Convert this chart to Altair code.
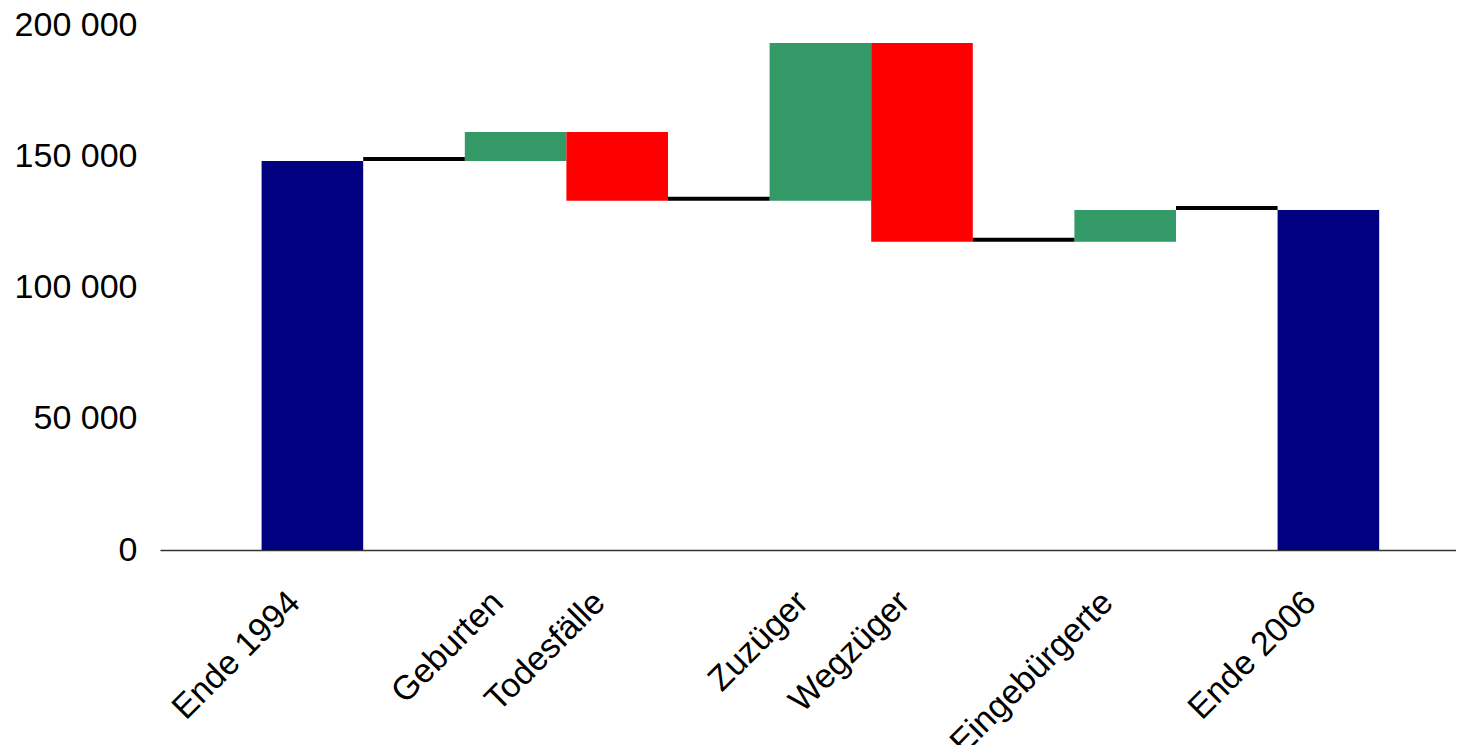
import json
import altair as alt
import pandas as pd

# Slot layout along the category axis (empty strings are spacer / connector slots)
slots = ["", "Ende 1994", "", "Geburten", "Todesfälle", "", "Zuzüger", "Wegzüger", "", "Eingebürgerte", "", "Ende 2006"]

# Waterfall values
start_value = 148200
end_value = 129530
change_names = ["Geburten", "Todesfälle", "Zuzüger", "Wegzüger", "Eingebürgerte"]
change_values = [11050, -26170, 60070, -75690, 12070]

bar_names = ["Ende 1994", "Geburten", "Todesfälle", "Zuzüger", "Wegzüger", "Eingebürgerte", "Ende 2006"]
bar_kinds = ["Bestand", "Zunahme", "Abnahme", "Zunahme", "Abnahme", "Zunahme", "Bestand"]
kind_domain = ["Bestand", "Zunahme", "Abnahme"]
kind_colors = ["#000080", "#339966", "#FF0000"]

connector_slots = [2, 5, 8, 10]
connector_after = ["Ende 1994", "Todesfälle", "Wegzüger", "Eingebürgerte"]

y_ticks = [0, 50000, 100000, 150000, 200000]

# Build bar table
rows = []
level = start_value
levels_after = {"Ende 1994": start_value}
rows.append({"name": "Ende 1994", "low": 0, "high": start_value})
for n, v in zip(change_names, change_values):
    new = level + v
    rows.append({"name": n, "low": min(level, new), "high": max(level, new)})
    level = new
    levels_after[n] = level
rows.append({"name": "Ende 2006", "low": 0, "high": end_value})
for r, k in zip(rows, bar_kinds):
    r["kind"] = k
    s = slots.index(r["name"])
    r["s0"] = s
    r["s1"] = s + 1
bars_df = pd.DataFrame(rows)

conn_df = pd.DataFrame({
    "s0": connector_slots,
    "s1": [s + 1 for s in connector_slots],
    "level": [levels_after[n] for n in connector_after],
})

label_values = [i + 0.5 for i, s in enumerate(slots) if s]
label_expr = json.dumps(slots, ensure_ascii=False) + "[floor(datum.value)]"

font = "Liberation Sans"
x_dom = [0, 12.756]

x_axis = alt.Axis(
    values=label_values, labelExpr=label_expr, ticks=False, tickSize=0, grid=False,
    domainColor="#333333", domainWidth=1.5, labelAngle=-45, labelAlign="right",
    labelBaseline="top", labelPadding=35, labelOffset=-30, labelFont=font,
    labelFontSize=34, labelColor="black", labelOverlap=False, labelBound=False,
    labelFlush=False, labelLimit=0, title=None,
)
y_axis = alt.Axis(
    values=y_ticks, labelExpr="replace(format(datum.value, ','), ',', ' ')",
    ticks=False, tickSize=0, grid=False, domain=False, labelPadding=23,
    labelFont=font, labelFontSize=34, labelColor="black", labelLimit=0, title=None,
)

bars = alt.Chart(bars_df).mark_bar(stroke=None).encode(
    x=alt.X("s0:Q", scale=alt.Scale(domain=x_dom, nice=False, zero=False), axis=x_axis),
    x2="s1:Q",
    y=alt.Y("low:Q", scale=alt.Scale(domain=[0, 200000], nice=False), axis=y_axis),
    y2="high:Q",
    color=alt.Color("kind:N", scale=alt.Scale(domain=kind_domain, range=kind_colors), legend=None),
)

conns = alt.Chart(conn_df).mark_rule(color="black", strokeWidth=4, yOffset=-2).encode(
    x="s0:Q", x2="s1:Q", y="level:Q",
)

chart = alt.layer(bars, conns).properties(
    width=1296, height=525,
    autosize=alt.AutoSizeParams(type="none"),
    padding={"left": 152, "top": 17, "right": 0, "bottom": 195},
).configure_view(stroke=None)

chart.save("out.html", embed_options={"renderer": "svg", "actions": False})
